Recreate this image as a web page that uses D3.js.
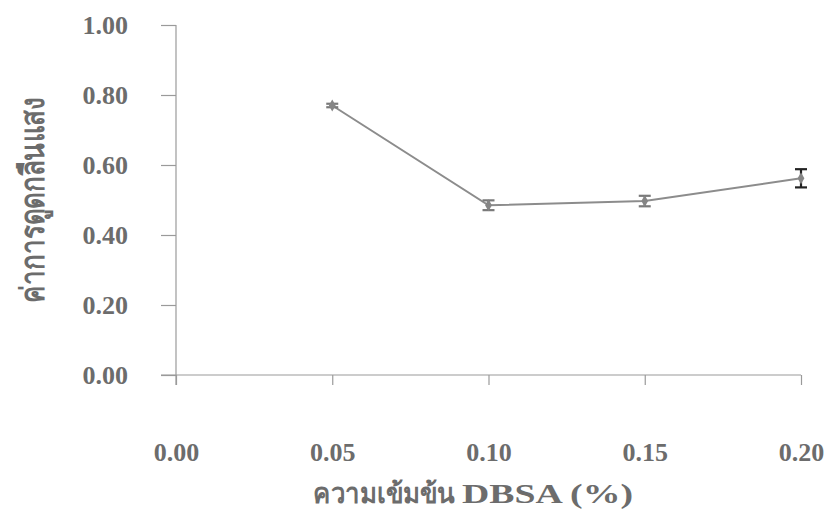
<!DOCTYPE html>
<html>
<head>
<meta charset="utf-8">
<script src="https://cdn.jsdelivr.net/npm/d3@7"></script>
<style>
  body { margin: 0; background: #fff; }
  svg { display: block; }
  text { font-family: "Liberation Serif", "Noto Serif", serif; font-weight: bold; fill: #6c6c6c; }
</style>
</head>
<body>
<svg id="chart" width="832" height="512"></svg>
<script>
// DBSA concentration (%) vs absorbance, with standard deviation
const concentrations = [0.05, 0.10, 0.15, 0.20];
const absorbance = [0.770, 0.485, 0.497, 0.562];
const stdDev = [0.005, 0.014, 0.015, 0.026];
const xTicks = [0.00, 0.05, 0.10, 0.15, 0.20];
const yTicks = [0.00, 0.20, 0.40, 0.60, 0.80, 1.00];
const xTitleThai = "ความเข้มข้น";
const xTitleLatin = "DBSA (%)";
const yTitle = "ค่าการดูดกลืนแสง";

const svg = d3.select("#chart");
const x = d3.scaleLinear().domain([0, 0.20]).range([176, 801]);
const y = d3.scaleLinear().domain([0, 1]).range([375, 25]);
const axisColor = "#9a9a9a";
const labelFont = '"Liberation Serif", serif';

// y axis
const yAxis = svg.append("g").attr("transform", `translate(${x(0)},0)`)
  .call(d3.axisLeft(y).tickValues(yTicks).tickSize(15).tickPadding(33).tickFormat(d3.format(".2f")));
yAxis.select(".domain").attr("stroke", axisColor).attr("stroke-width", 1.2).attr("d", `M0,${y(1)}V${y(0) + 10}`);
yAxis.selectAll(".tick line").attr("stroke", axisColor).attr("stroke-width", 1.2);
yAxis.selectAll(".tick text").attr("font-size", 26).attr("fill", "#6c6c6c")
  .style("font-family", labelFont).style("font-weight", "bold");

// x axis
const xAxis = svg.append("g").attr("transform", `translate(0,${y(0)})`)
  .call(d3.axisBottom(x).tickValues(xTicks).tickSize(10).tickPadding(58).tickFormat(d3.format(".2f")));
xAxis.select(".domain").attr("stroke", axisColor).attr("stroke-width", 1.2).attr("d", `M${x(0) - 15},0H${x(0.20)}`);
xAxis.selectAll(".tick line").attr("stroke", axisColor).attr("stroke-width", 1.2);
xAxis.selectAll(".tick text").attr("font-size", 26).attr("fill", "#6c6c6c")
  .style("font-family", labelFont).style("font-weight", "bold");

// x axis title: Thai words and Latin part set as two runs
svg.append("text").attr("x", 313).attr("y", 503)
  .attr("font-size", 28).attr("textLength", 142).attr("lengthAdjust", "spacingAndGlyphs")
  .text(xTitleThai);
svg.append("text").attr("x", 462).attr("y", 503)
  .attr("font-size", 28).attr("textLength", 171).attr("lengthAdjust", "spacingAndGlyphs")
  .text(xTitleLatin);

// y axis title
svg.append("text").attr("transform", "translate(44,200) rotate(-90)").attr("text-anchor", "middle")
  .attr("font-size", 33).attr("textLength", 205).attr("lengthAdjust", "spacingAndGlyphs")
  .text(yTitle);

const data = concentrations.map((c, i) => ({ c, v: absorbance[i], sd: stdDev[i] }));

// connecting line
svg.append("path").datum(data)
  .attr("fill", "none").attr("stroke", "#8c8c8c").attr("stroke-width", 2)
  .attr("d", d3.line().x(d => x(d.c)).y(d => y(d.v)));

// error bars
const eb = svg.append("g").selectAll("g").data(data).join("g")
  .attr("stroke", (d, i) => i === data.length - 1 ? "#222" : "#7a7a7a")
  .attr("stroke-width", 2.2);
eb.append("line").attr("x1", d => x(d.c)).attr("x2", d => x(d.c))
  .attr("y1", d => y(d.v + d.sd)).attr("y2", d => y(d.v - d.sd));
eb.append("line").attr("x1", d => x(d.c) - 6).attr("x2", d => x(d.c) + 6)
  .attr("y1", d => y(d.v + d.sd)).attr("y2", d => y(d.v + d.sd));
eb.append("line").attr("x1", d => x(d.c) - 6).attr("x2", d => x(d.c) + 6)
  .attr("y1", d => y(d.v - d.sd)).attr("y2", d => y(d.v - d.sd));

// point markers
svg.append("g").selectAll("path").data(data).join("path")
  .attr("transform", d => `translate(${x(d.c)},${y(d.v)})`)
  .attr("d", d3.symbol(d3.symbolDiamond, 40))
  .attr("fill", "#858585");
</script>
</body>
</html>
